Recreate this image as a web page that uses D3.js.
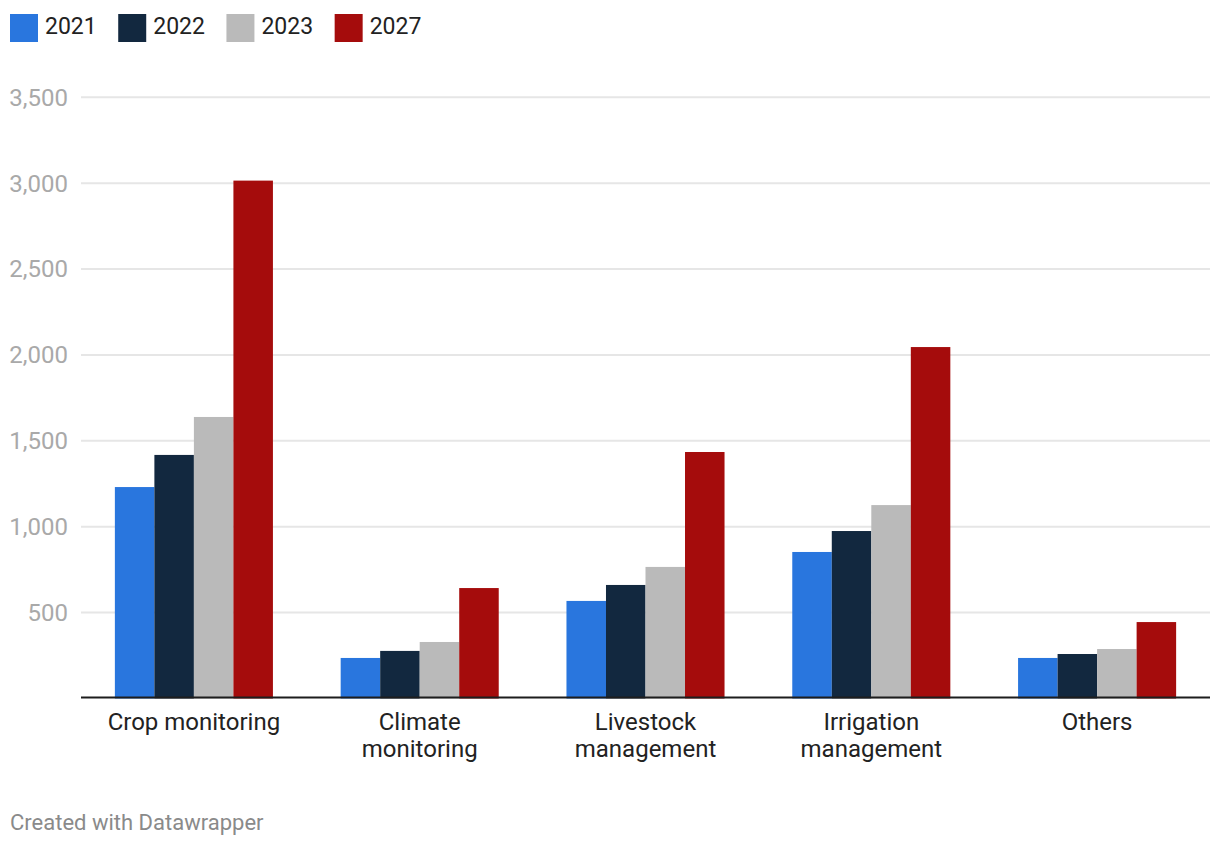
<!DOCTYPE html>
<html><head><meta charset="utf-8">
<script src="https://cdn.jsdelivr.net/npm/d3@7"></script>
<style>
html,body{margin:0;padding:0;background:#fff;}
svg{display:block;font-family:Roboto,"Noto Sans",sans-serif;}
</style></head>
<body><svg id="chart" width="1220" height="848"></svg>
<script>
const categories = ["Crop monitoring", "Climate monitoring", "Livestock management", "Irrigation management", "Others"];
const categoryLines = [["Crop monitoring"], ["Climate", "monitoring"], ["Livestock", "management"], ["Irrigation", "management"], ["Others"]];
const seriesNames = ["2021", "2022", "2023", "2027"];
const seriesColors = ["#2976de", "#12283f", "#bababa", "#a50c0c"];
const values2021 = [1231, 236, 568, 853, 236];
const values2022 = [1418, 277, 661, 975, 259];
const values2023 = [1639, 329, 766, 1126, 288];
const values2027 = [3015, 643, 1435, 2046, 445];
const yTicks = [500, 1000, 1500, 2000, 2500, 3000, 3500];
const footerText = "Created with Datawrapper";

const seriesValues = [values2021, values2022, values2023, values2027];
const svg = d3.select("#chart");

const x0 = d3.scaleBand().domain(categories).range([81, 1210]).paddingInner(0.3).paddingOuter(0.15);
const x1 = d3.scaleBand().domain(seriesNames).range([0, x0.bandwidth()]).padding(0);
const y = d3.scaleLinear().domain([0, 3500]).range([698.5, 97.3]);

// gridlines
svg.append("g").selectAll("line").data(yTicks).join("line")
  .attr("x1", 81).attr("x2", 1210)
  .attr("y1", d => y(d)).attr("y2", d => y(d))
  .attr("stroke", "#e6e6e6").attr("stroke-width", 2);

// y labels
svg.append("g").selectAll("text").data(yTicks).join("text")
  .attr("x", 68).attr("y", d => y(d)).attr("dy", "0.35em")
  .attr("text-anchor", "end").attr("fill", "#a9a9a9")
  .style("font-size", "24px")
  .text(d => d3.format(",")(d));

// bars
const groups = svg.append("g").selectAll("g").data(categories).join("g")
  .attr("transform", d => `translate(${x0(d)},0)`);
groups.selectAll("rect").data((c, i) => seriesNames.map((s, j) => ({s, j, v: seriesValues[j][i]})))
  .join("rect")
  .attr("x", d => x1(d.s)).attr("width", x1.bandwidth())
  .attr("y", d => y(d.v)).attr("height", d => y(0) - y(d.v))
  .attr("fill", d => seriesColors[d.j]);

// baseline
svg.append("line").attr("x1", 81).attr("x2", 1210).attr("y1", 697.5).attr("y2", 697.5)
  .attr("stroke", "#1d1d1d").attr("stroke-width", 2);

// category labels
const cl = svg.append("g").selectAll("text").data(categories).join("text")
  .attr("x", d => x0(d) + x0.bandwidth() / 2).attr("y", 729.5)
  .attr("text-anchor", "middle").attr("fill", "#222")
  .style("font-size", "24px");
cl.each(function(d, i) {
  d3.select(this).selectAll("tspan").data(categoryLines[i]).join("tspan")
    .attr("x", x0(d) + x0.bandwidth() / 2)
    .attr("dy", (t, k) => k === 0 ? 0 : 27.5)
    .text(t => t);
});

// legend
const leg = svg.append("g");
let lx = 10;
seriesNames.forEach((s, j) => {
  leg.append("rect").attr("x", lx).attr("y", 14).attr("width", 28).attr("height", 28).attr("fill", seriesColors[j]);
  const t = leg.append("text").attr("x", lx + 35).attr("y", 34.3).attr("fill", "#222")
    .style("font-size", "23px").text(s);
  lx = lx + 35 + t.node().getComputedTextLength() + 21.5;
});

// footer
svg.append("text").attr("x", 10).attr("y", 830).attr("fill", "#8a8a8a")
  .style("font-size", "22px").text(footerText);
</script>
</body></html>
